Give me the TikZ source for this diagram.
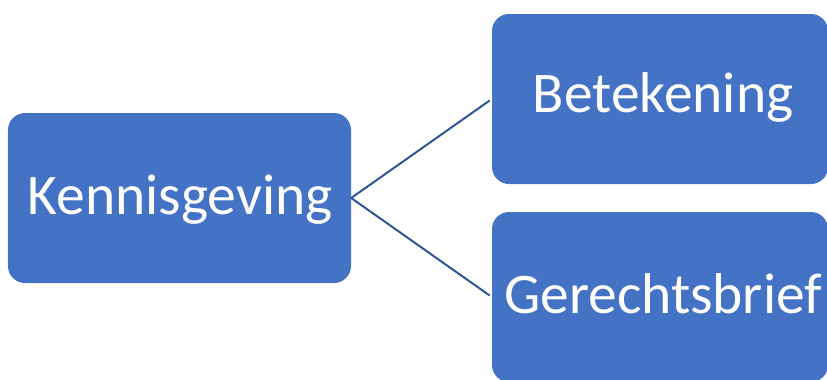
\documentclass[tikz,border=0pt]{standalone}
\usepackage{fontspec}
\setmainfont{Carlito}
\definecolor{boxblue}{HTML}{4472C4}
\definecolor{lineblue}{HTML}{2F5597}
\begin{document}
\begin{tikzpicture}[x=1bp,y=-1bp,
  box/.style={fill=boxblue, rounded corners=17bp, inner sep=0pt, anchor=center},
  label/.style={text=white, font=\fontsize{57.5bp}{60bp}\selectfont, inner sep=0pt, anchor=base},
  link/.style={draw=lineblue, line width=2bp, shorten >=2.5bp}]
\useasboundingbox (0,0) rectangle (827,379);
\clip (0,0) rectangle (827,379);
\node[box, minimum width=343bp, minimum height=170bp] (k) at (179.5,198) {};
\node[box, minimum width=336bp, minimum height=170bp] (b) at (660,99) {};
\node[box, minimum width=336bp, minimum height=170bp] (g) at (660,297) {};
\node[label] (kt) at (180,214) {Kennisgeving};
\node[label] (bt) at (663,112) {Betekening};
\node[label] (gt) at (663,313) {Gerechtsbrief};
\draw[link] (k.east) -- (b.west);
\draw[link] (k.east) -- (g.west);
\end{tikzpicture}
\end{document}
